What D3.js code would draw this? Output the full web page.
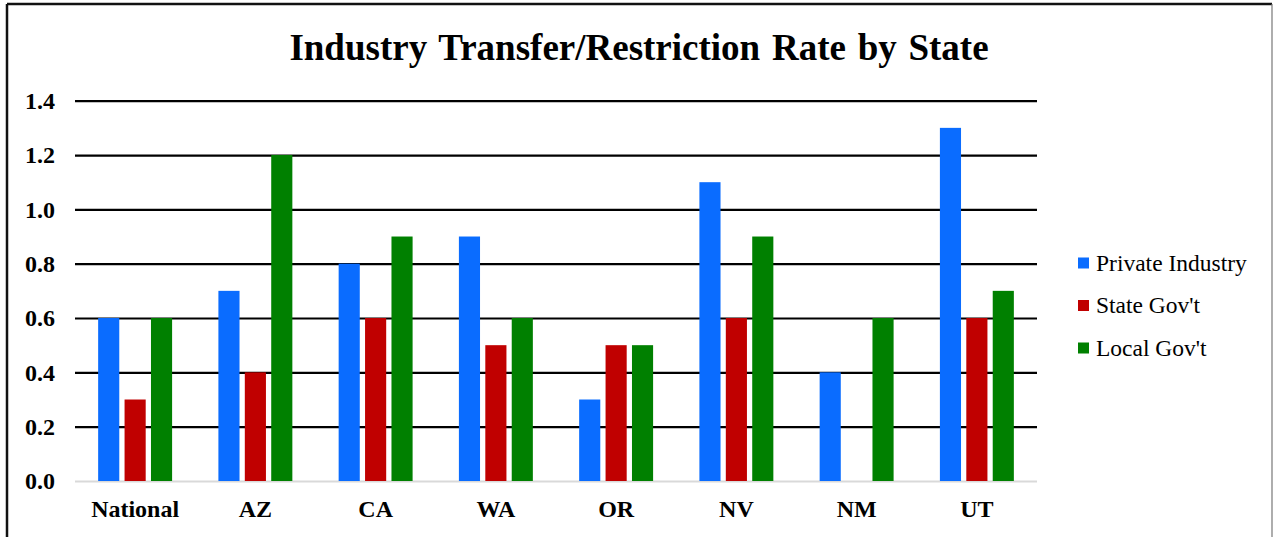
<!DOCTYPE html>
<html><head><meta charset="utf-8">
<script src="https://cdn.jsdelivr.net/npm/d3@7"></script>
<style>html,body{margin:0;padding:0;background:#fff;overflow:hidden}</style>
</head><body>
<svg id="c" width="1276" height="537"></svg>
<script>
const categories = ["National","AZ","CA","WA","OR","NV","NM","UT"];
const seriesNames = ["Private Industry","State Gov't","Local Gov't"];
const privateIndustry = [0.6,0.7,0.8,0.9,0.3,1.1,0.4,1.3];
const stateGov = [0.3,0.4,0.6,0.5,0.5,0.6,null,0.6];
const localGov = [0.6,1.2,0.9,0.6,0.5,0.9,0.6,0.7];
const yTicks = [0,0.2,0.4,0.6,0.8,1.0,1.2,1.4];
const colors = ["#0A6CFF","#C00000","#008000"];
const title = "Industry Transfer/Restriction Rate by State";

(function(){
const series = [privateIndustry, stateGov, localGov];
const svg = d3.select("#c");
const serif = "'Liberation Serif','Times New Roman',serif";

// frame
svg.append("line").attr("x1",7).attr("x2",1272).attr("y1",4).attr("y2",4).attr("stroke","#111").attr("stroke-width",2.5);
svg.append("line").attr("x1",7).attr("x2",7).attr("y1",4).attr("y2",540).attr("stroke","#111").attr("stroke-width",2.5);
svg.append("line").attr("x1",1272).attr("x2",1272).attr("y1",4).attr("y2",540).attr("stroke","#777").attr("stroke-width",1.2);

const pLeft = 75, pRight = 1037, pTop = 100.7, pBottom = 481;
const y = d3.scaleLinear().domain([0,1.4]).range([pBottom, pTop]);
const x0 = d3.scaleBand().domain(categories).range([pLeft,pRight]).paddingInner(0.385).paddingOuter(0.1925);
const x1 = d3.scaleBand().domain(d3.range(3)).range([0,x0.bandwidth()]).paddingInner(0.2).paddingOuter(0);

// gridlines
const yAxis = d3.axisLeft(y).tickValues(yTicks).tickFormat(d3.format(".1f")).tickSize(-(pRight-pLeft)).tickPadding(20);
const gy = svg.append("g").attr("transform",`translate(${pLeft},0)`).call(yAxis);
gy.select(".domain").remove();
gy.selectAll(".tick line").attr("stroke", d => d===0 ? "#d9d9d9" : "#000").attr("stroke-width",2.2);
gy.selectAll(".tick text").attr("font-family",serif).attr("font-weight","bold").attr("font-size",24).attr("fill","#000");

// bars
const groups = svg.append("g").selectAll("g").data(categories).join("g")
  .attr("transform", c => `translate(${x0(c)},0)`);
groups.selectAll("rect").data((c,i) => series.map((s,k) => ({k, v: s[i]})).filter(d => d.v != null))
  .join("rect")
  .attr("x", d => x1(d.k)).attr("width", x1.bandwidth())
  .attr("y", d => y(d.v)).attr("height", d => y(0) - y(d.v))
  .attr("fill", d => colors[d.k]);

// x axis labels
const xAxis = d3.axisBottom(x0).tickSize(0).tickPadding(19);
const gx = svg.append("g").attr("transform",`translate(0,${pBottom})`).call(xAxis);
gx.select(".domain").remove();
gx.selectAll(".tick text").attr("font-family",serif).attr("font-weight","bold").attr("font-size",24).attr("fill","#000");

// title
svg.append("text").attr("x",639).attr("y",60).attr("text-anchor","middle")
  .attr("font-family",serif).attr("font-weight","bold").attr("font-size",37).attr("word-spacing",2.5).attr("fill","#000").text(title);

// legend
const lg = svg.append("g").attr("transform","translate(1078,263)");
seriesNames.forEach((n,i) => {
  const g = lg.append("g").attr("transform",`translate(0,${i*42.5})`);
  g.append("rect").attr("x",0).attr("y",-5.5).attr("width",11).attr("height",11).attr("fill",colors[i]);
  g.append("text").attr("x",18).attr("y",0).attr("dy","0.33em").attr("font-family",serif).attr("font-size",23.5).attr("fill","#000").text(n);
});
})();
</script>
</body></html>
